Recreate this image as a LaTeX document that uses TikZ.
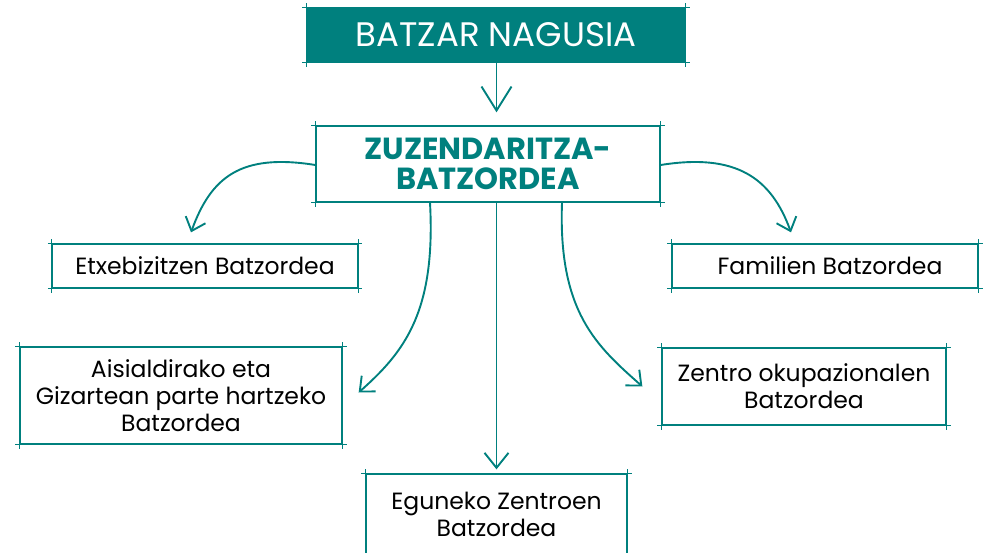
\documentclass[tikz,border=0pt]{standalone}
\usepackage{fontspec}
\setmainfont{Poppins}
\usepackage{tikz}
\usetikzlibrary{arrows.meta, calc}

\definecolor{tealc}{RGB}{0,128,126}

\tikzset{
	box/.style={draw=tealc, line width=1.3pt, inner sep=0pt, align=center, text=black, font=\fontsize{23.5}{27}\selectfont},
	arr/.style={draw=tealc, line width=1.9pt, -{Straight Barb[length=12pt,width=21pt,line width=1.9pt]}},
}

\begin{document}
\begin{tikzpicture}[x=1pt,y=1pt]
	\useasboundingbox (0,0) rectangle (987,552);
	\node[box, fill=tealc, text=white, minimum width=378pt, minimum height=54pt, font=\fontsize{34}{36}\selectfont] (batzar) at (496,517) {BATZAR NAGUSIA};
	\node[box, text=tealc, minimum width=344pt, minimum height=76pt, font=\bfseries\fontsize{30.5}{30}\selectfont] (zuzendaritza) at (488,388) {ZUZENDARITZA-\\BATZORDEA};
	\node[box, minimum width=305pt, minimum height=44pt] (etxebizitza) at (205,286) {Etxebizitzen Batzordea};
	\node[box, minimum width=306pt, minimum height=44pt] (familia) at (825,286) {\hspace*{10pt}Familien Batzordea};
	\node[box, minimum width=322pt, minimum height=97pt] (aisialdia) at (181,156.5) {Aisialdirako eta\\Gizartean parte hartzeko\\Batzordea};
	\node[box, minimum width=284pt, minimum height=77pt] (zentroa) at (804,165.5) {Zentro okupazionalen\\Batzordea};
	\node[box, minimum width=261pt, minimum height=80pt] (eguneko) at (496.5,38) {Eguneko Zentroen\\Batzordea};

	% sketchy corners
	\foreach \n in {batzar,zuzendaritza,etxebizitza,familia,aisialdia,zentroa,eguneko}{
		\draw[tealc, line width=0.8pt] ([xshift=-4pt]\n.north west) -- ([xshift=4pt]\n.north east);
		\draw[tealc, line width=0.8pt] ([yshift=4pt]\n.north west) -- ([yshift=-4pt]\n.south west);
		\draw[tealc, line width=0.8pt] ([yshift=4pt]\n.north east) -- ([yshift=-4pt]\n.south east);
		\draw[tealc, line width=0.8pt] ([xshift=-4pt]\n.south west) -- ([xshift=4pt]\n.south east);
	}

	% connectors
	\draw[arr, -{Straight Barb[length=24pt,width=30pt,line width=1.9pt]}] (batzar.south -| eguneko.north) -- ([yshift=13pt]eguneko.north |- zuzendaritza.north);
	\draw[arr, -{Straight Barb[length=15pt,width=24pt,line width=1.9pt]}] (eguneko.north |- zuzendaritza.south) -- ([yshift=4pt]eguneko.north);
	\draw[arr] ([yshift=-1pt]zuzendaritza.west) .. controls +(-75,12) and +(20,55) .. ([shift={(-14,11)}]etxebizitza.north);
	\draw[arr] ([yshift=-1pt]zuzendaritza.east) .. controls +(75,12) and +(-20,55) .. ([shift={(-34,11)}]familia.north);
	\draw[arr] ([xshift=-58pt]zuzendaritza.south) .. controls +(6,-110) and +(45,40) .. ([shift={(16,3)}]aisialdia.east);
	\draw[arr] ([xshift=74pt]zuzendaritza.south) .. controls +(-4,-110) and +(-45,40) .. ([shift={(-19,0)}]zentroa.west);
\end{tikzpicture}
\end{document}
